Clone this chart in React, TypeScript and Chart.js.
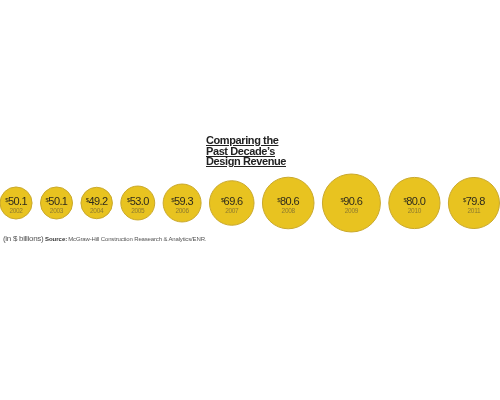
import React, { useEffect, useRef } from "react";
import { Chart, registerables } from "chart.js";

Chart.register(...registerables);

const years = ["2002", "2003", "2004", "2005", "2006", "2007", "2008", "2009", "2010", "2011"];
const revenue = [50.1, 50.1, 49.2, 53.0, 59.3, 69.6, 80.6, 90.6, 80.0, 79.8];
const titleLines = ["Comparing the", "Past Decade\u2019s", "Design Revenue"];
const unitNote = "(in $ billions)";
const sourceLabel = "Source:";
const sourceText = "McGraw-Hill Construction Reasearch & Analytics/ENR.";

const RADIUS_PER_BILLION = 0.32;
const GAP = 8.4;
const ROW_Y = 203;

export default function App() {
  const ref = useRef<HTMLCanvasElement | null>(null);

  useEffect(() => {
    if (!ref.current) return;
    let cursor = 0;
    const points = revenue.map((v) => {
      const r = v * RADIUS_PER_BILLION;
      const x = cursor + r;
      cursor = x + r + GAP;
      return { x, y: ROW_Y, r };
    });

    const labelPlugin = {
      id: "bubbleLabels",
      afterDatasetsDraw(chart: any) {
        const ctx = chart.ctx;
        const meta = chart.getDatasetMeta(0);
        ctx.save();
        meta.data.forEach((el: any, i: number) => {
          const cx = el.x;
          const cy = el.y;
          const num = revenue[i].toFixed(1);
          ctx.textBaseline = "alphabetic";
          (ctx as any).letterSpacing = "-0.6px";
          ctx.font = "11px 'Liberation Sans', Arial, sans-serif";
          const nw = ctx.measureText(num).width;
          ctx.font = "6px 'Liberation Sans', Arial, sans-serif";
          const dw = ctx.measureText("$").width;
          const total = nw + dw;
          const left = cx - total / 2;
          ctx.fillStyle = "#2e2a1c";
          ctx.textAlign = "left";
          ctx.fillText("$", left, cy - 1.5);
          ctx.font = "11px 'Liberation Sans', Arial, sans-serif";
          ctx.fillText(num, left + dw, cy + 1.5);
          (ctx as any).letterSpacing = "-0.3px";
          ctx.font = "6.5px 'Liberation Sans', Arial, sans-serif";
          ctx.fillStyle = "#8c7a30";
          ctx.textAlign = "center";
          ctx.fillText(years[i], cx, cy + 9.5);
        });
        ctx.restore();
      },
    };

    const chart = new Chart(ref.current, {
      type: "bubble",
      data: {
        labels: years,
        datasets: [
          {
            label: "Design revenue",
            data: points,
            backgroundColor: "#e8c320",
            borderColor: "#c9a82c",
            borderWidth: 1,
            clip: false as any,
          },
        ],
      },
      options: {
        animation: false,
        responsive: false,
        maintainAspectRatio: false,
        layout: { padding: 0, autoPadding: false } as any,
        plugins: { legend: { display: false }, tooltip: { enabled: false }, title: { display: false } },
        scales: {
          x: { type: "linear", min: 0, max: 500, display: false },
          y: { type: "linear", min: 0, max: 400, reverse: true, display: false },
        },
      },
      plugins: [labelPlugin],
    });
    return () => chart.destroy();
  }, []);

  return (
    <div style={{ position: "fixed", left: 0, top: 0, width: 500, height: 400, background: "#fff", fontFamily: "'Liberation Sans', Arial, sans-serif" }}>
      <canvas ref={ref} width={500} height={400} style={{ position: "absolute", left: 0, top: 0 }} />
      <div style={{ position: "absolute", left: 206, top: 135, fontWeight: 700, fontSize: 11, lineHeight: "10.5px", color: "#222", letterSpacing: "-0.4px" }}>
        {titleLines.map((t) => (
          <div key={t} style={{ textDecoration: "underline", textUnderlineOffset: "1px" }}>{t}</div>
        ))}
      </div>
      <div style={{ position: "absolute", left: 3, top: 231, whiteSpace: "nowrap", color: "#555", lineHeight: "10px" }}>
        <span style={{ fontSize: 8, letterSpacing: "-0.3px" }}>{unitNote}</span>
        <span style={{ fontSize: 6, fontWeight: 700, color: "#333", marginLeft: 1.5 }}>{sourceLabel}</span>
        <span style={{ fontSize: 6, letterSpacing: "-0.15px", marginLeft: 1 }}>{sourceText}</span>
      </div>
    </div>
  );
}
